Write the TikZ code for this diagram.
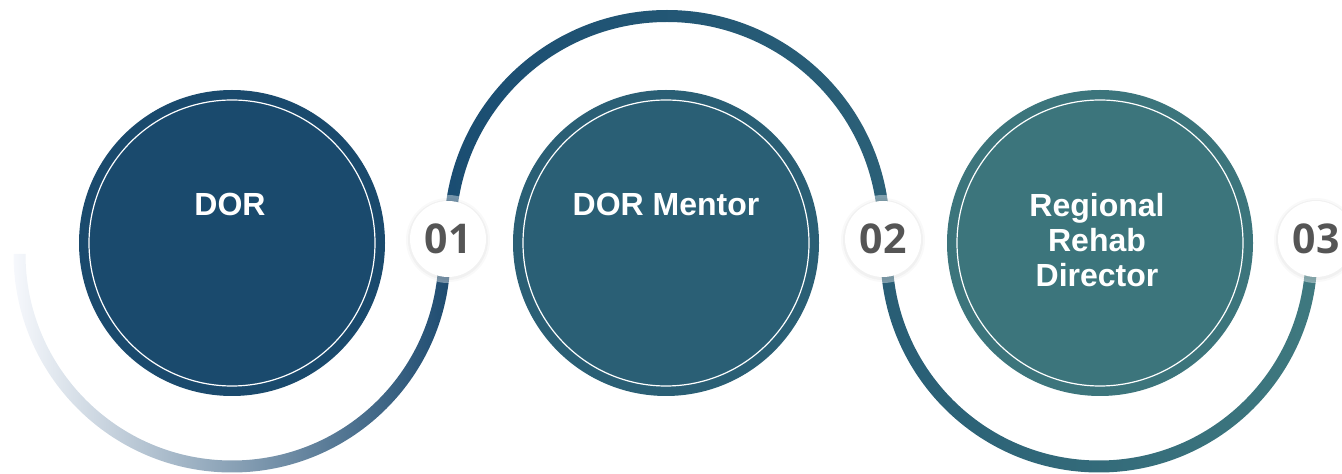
\documentclass[tikz,border=0pt]{standalone}
\usepackage{fontspec}
\setmainfont{Liberation Sans}
\newfontfamily\numfont{Open Sans}
\usetikzlibrary{positioning}
\definecolor{roleA}{HTML}{1A4A6D}
\definecolor{roleB}{HTML}{2A5F75}
\definecolor{roleC}{HTML}{3C757C}
\definecolor{numgray}{HTML}{555555}

\begin{document}
\begin{tikzpicture}[x=1pt,y=1pt,
  role/.style={circle,minimum size=306pt,inner sep=0pt},
  rolelabel/.style={anchor=north,inner sep=0pt,align=center,text=white,
    font=\fontsize{32}{35}\selectfont\bfseries},
  badge/.style={circle,fill=white,minimum size=76pt,inner sep=0pt,text=numgray,
    font=\numfont\fontsize{41}{41}\selectfont\bfseries}]
  \useasboundingbox (0,0) rectangle (1342,474);
  % Arcs
  \shade[left color={rgb,255:red,246;green,248;blue,252},
         middle color={rgb,255:red,154;green,170;blue,202},
         right color={rgb,255:red,29;green,75;blue,112}]
    (13.5,220) arc[start angle=180,end angle=360,radius=218.5]
    -- (438.5,220) arc[start angle=0,end angle=-180,radius=206.5] -- cycle;
  \shade[left color={rgb,255:red,26;green,77;blue,114},
         right color={rgb,255:red,43;green,96;blue,119}]
    (444,241) arc[start angle=180,end angle=0,radius=223]
    -- (878,241) arc[start angle=0,end angle=180,radius=211] -- cycle;
  \shade[left color={rgb,255:red,40;green,93;blue,117},
         right color={rgb,255:red,63;green,121;blue,127}]
    (880.5,220) arc[start angle=180,end angle=360,radius=218.5]
    -- (1305.5,220) arc[start angle=0,end angle=-180,radius=206.5] -- cycle;
  % Roles
  \node[role,fill=roleA] (dor) at (232,231) {};
  \node[role,fill=roleB] (mentor) at (666,231) {};
  \node[role,fill=roleC] (regional) at (1100,231) {};
  \foreach \c in {dor,mentor,regional}
    \draw[white,line width=1.2pt] (\c.center) circle (143);
  \node[rolelabel] (dortxt) at (230,281) {DOR};
  \node[rolelabel] (mentortxt) at (666,281) {DOR Mentor};
  \node[rolelabel] (regionaltxt) at (1097,281) {Regional\\Rehab\\Director};
  % Step numbers
  \foreach \x/\n in {448/1,883/2,1316/3} {
    \fill[white,opacity=0.4] (\x,235) circle (44);
    \fill[black,opacity=0.025] (\x,234) circle (42);
    \fill[black,opacity=0.03] (\x,234) circle (40);
    \node[badge] (step\n) at (\x,235) {0\n};
  }
\end{tikzpicture}
\end{document}
